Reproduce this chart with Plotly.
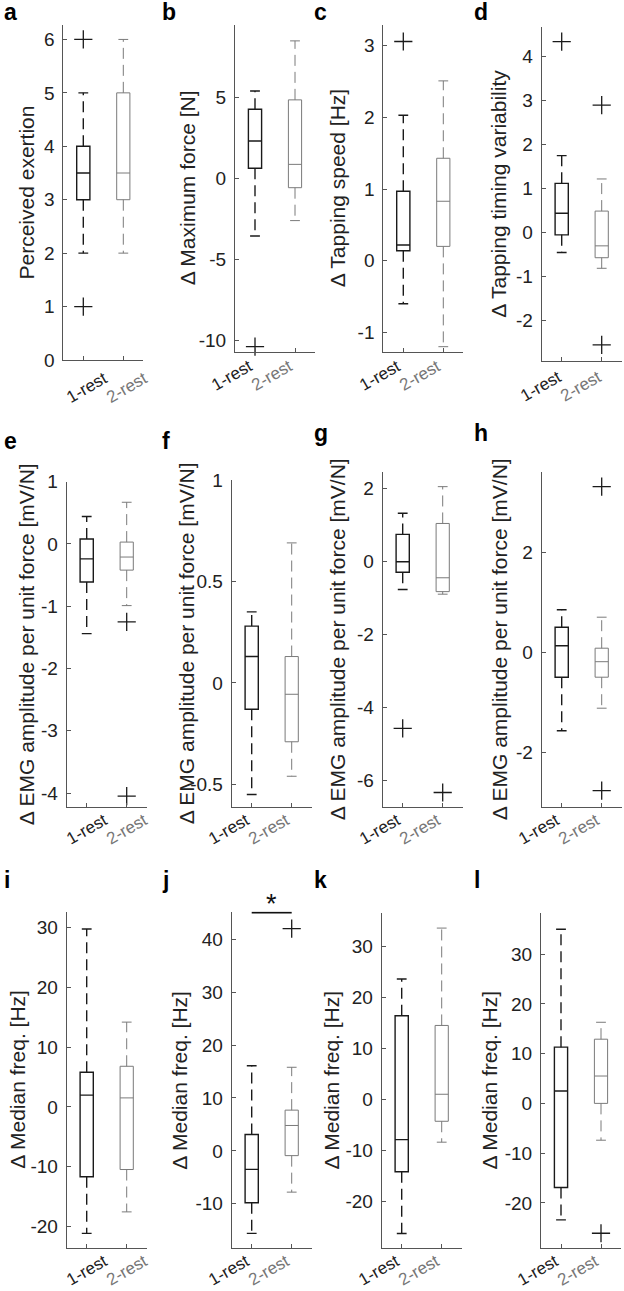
import plotly.graph_objects as go

W, H = 624, 1291

# ---------------- data ----------------
PANEL_LETTERS = ["a", "b", "c", "d", "e", "f", "g", "h", "i", "j", "k", "l"]
GROUPS = ["1-rest", "2-rest"]
Y_TITLES = [
    "Perceived exertion", "Δ Maximum force [N]", "Δ Tapping speed [Hz]", "Δ Tapping timing variability",
    "Δ EMG amplitude per unit force [mV/N]", "Δ EMG amplitude per unit force [mV/N]",
    "Δ EMG amplitude per unit force [mV/N]", "Δ EMG amplitude per unit force [mV/N]",
    "Δ Median freq. [Hz]", "Δ Median freq. [Hz]", "Δ Median freq. [Hz]", "Δ Median freq. [Hz]",
]

# group 1 (1-rest) box statistics per panel
G1_LOWER = [2, -3.56, -0.60, -0.45, -1.44, -0.55, -0.76, -1.57, -21.2, -15.6, -26.3, -23.4]
G1_Q1 = [3, 0.62, 0.14, -0.05, -0.61, -0.13, -0.29, -0.50, -11.7, -9.8, -14.2, -16.9]
G1_MED = [3.5, 2.30, 0.22, 0.44, -0.24, 0.13, 0.0, 0.13, 1.96, -3.5, -7.9, 2.5]
G1_Q3 = [4, 4.26, 0.97, 1.12, 0.08, 0.28, 0.75, 0.50, 5.8, 3.1, 16.4, 11.3]
G1_UPPER = [5, 5.39, 2.03, 1.75, 0.44, 0.35, 1.33, 0.85, 29.8, 16.1, 23.6, 35.0]
G1_OUTLIERS = [[6, 1], [-10.39], [3.06], [4.34], [], [], [-4.57], [], [], [], [], []]

# group 2 (2-rest) box statistics per panel
G2_LOWER = [2, -2.61, -1.20, -0.81, -0.99, -0.46, -0.89, -1.12, -17.6, -7.8, -8.4, -7.4]
G2_Q1 = [3, -0.58, 0.20, -0.57, -0.42, -0.29, -0.82, -0.50, -10.5, -0.9, -4.3, 0.0]
G2_MED = [3.5, 0.86, 0.83, -0.30, -0.21, -0.056, -0.44, -0.19, 1.5, 4.8, 1.0, 5.5]
G2_Q3 = [5, 4.84, 1.43, 0.49, 0.03, 0.13, 1.05, 0.08, 6.8, 7.7, 14.5, 12.9]
G2_UPPER = [6, 8.48, 2.51, 1.22, 0.67, 0.69, 2.06, 0.70, 14.2, 15.8, 33.6, 16.3]
G2_OUTLIERS = [[], [], [], [2.90, -2.55], [-1.25, -4.05], [], [-6.33], [3.31, -2.77], [], [42.0], [], [-26.1]]

Y_TICKS = [
    [0, 1, 2, 3, 4, 5, 6], [-10, -5, 0, 5], [-1, 0, 1, 2, 3], [-2, -1, 0, 1, 2, 3, 4],
    [-4, -3, -2, -1, 0, 1], [-0.5, 0, 0.5, 1], [-6, -4, -2, 0, 2], [-2, 0, 2],
    [-20, -10, 0, 10, 20, 30], [-10, 0, 10, 20, 30, 40], [-20, -10, 0, 10, 20, 30], [-20, -10, 0, 10, 20, 30],
]
SIGNIF_PANEL = 9          # panel j
SIGNIF_LABEL = "*"

# ---------------- layout (pixels) ----------------
Y_RANGES = [
    [0, 6.27], [-10.7, 9.46], [-1.27, 3.29], [-2.91, 4.68],
    [-4.22, 1.0], [-0.61, 1.0], [-6.72, 2.47], [-3.09, 3.61],
    [-23.6, 32.7], [-18.3, 45.2], [-29.1, 36.5], [-29.0, 38.2],
]
BOXES_PX = [  # x0, x1, ytop, ybottom
    (63.3, 143.3, 25, 360), (235, 315, 25, 351.7), (383.3, 463.3, 25, 351.7), (541.7, 621.7, 26.7, 360.7),
    (66.7, 146.7, 481.7, 806.7), (231.7, 311.7, 480, 806.7), (382.7, 462.7, 471.7, 806.7), (541.7, 621.7, 471.7, 806.7),
    (66.7, 146.7, 911.7, 1247.7), (231.7, 311.7, 911.7, 1247.7), (381.7, 461.7, 913.3, 1247.7), (541, 621, 913.3, 1247.7),
]
TITLE_X_PX = [26, 187, 337, 499, 26, 186, 337, 499, 18, 180, 331, 489]
# x tick-label placement: anchor, x shift, y gap
XLAB_STYLE = [
    ("center", 4, 7), ("right", 2, 3), ("right", 2, 3), ("right", 4, 5),
    ("center", 0, 2), ("right", 2, 2), ("right", 2, 2), ("right", 2, 2),
    ("center", 0, 2), ("right", 2, 2), ("right", 2, 2), ("right", 2, 2),
]
LETTER_POS = [(2, 12), (160, 12), (312, 12), (472, 12),
              (2, 441), (160, 441), (312, 433), (472, 433),
              (2, 880), (160, 880), (312, 880), (472, 880)]

FONT = "Liberation Sans, Arial, Helvetica, sans-serif"
TXT = "#222222"
AXC = "#555555"
COLORS = ["#1a1a1a", "#7a7a7a"]
BOX_LW = [1.4, 1.0]
BOX_WIDTH = 0.33
TICK_FS = 19
XLAB_FS = 17
TITLE_FS = 21
LETTER_FS = 23

fig = go.Figure()
annotations = []
shapes = []


def fmt(v):
    return f"{v:g}"


for k in range(12):
    ax = "" if k == 0 else str(k + 1)
    xref, yref = "x" + ax, "y" + ax
    stats = [
        (G1_LOWER[k], G1_Q1[k], G1_MED[k], G1_Q3[k], G1_UPPER[k], G1_OUTLIERS[k]),
        (G2_LOWER[k], G2_Q1[k], G2_MED[k], G2_Q3[k], G2_UPPER[k], G2_OUTLIERS[k]),
    ]
    for gi, (lo, q1, med, q3, up, outs) in enumerate(stats):
        xpos = gi + 1
        col = COLORS[gi]
        fig.add_trace(go.Scatter(
            x=[xpos, xpos, None, xpos, xpos], y=[q3, up, None, q1, lo], mode="lines",
            line=dict(color=col, width=BOX_LW[gi], dash="11px,6px"),
            xaxis=xref, yaxis=yref, showlegend=False, hoverinfo="skip"))
        fig.add_trace(go.Scatter(
            x=[xpos, xpos], y=[up, lo], mode="markers",
            marker=dict(symbol="line-ew", size=7, line=dict(color=col, width=BOX_LW[gi])),
            xaxis=xref, yaxis=yref, showlegend=False, hoverinfo="skip"))
        fig.add_trace(go.Box(
            x=[xpos], q1=[q1], median=[med], q3=[q3], lowerfence=[q1], upperfence=[q3],
            width=BOX_WIDTH, whiskerwidth=0, fillcolor="rgba(0,0,0,0)",
            line=dict(color=col, width=BOX_LW[gi]), boxpoints=False,
            xaxis=xref, yaxis=yref, showlegend=False, hoverinfo="skip"))
        if outs:
            fig.add_trace(go.Scatter(
                x=[xpos] * len(outs), y=outs, mode="markers",
                marker=dict(symbol="cross-thin", size=13, line=dict(color="#1a1a1a", width=1.3)),
                xaxis=xref, yaxis=yref, showlegend=False, hoverinfo="skip", cliponaxis=False))

        anchor, xs, yg = XLAB_STYLE[k]
        annotations.append(dict(
            text=GROUPS[gi], x=xpos, y=0, xref=xref, yref=yref + " domain",
            xanchor=anchor, yanchor="top", xshift=xs, yshift=-yg, textangle=-30, showarrow=False,
            borderpad=0, font=dict(family=FONT, size=XLAB_FS, color=TXT if gi == 0 else "#777777")))

    x0, x1, yt, yb = BOXES_PX[k]
    common = dict(showline=True, linecolor=AXC, linewidth=1, ticks="inside", ticklen=4, tickcolor=AXC,
                  showgrid=False, zeroline=False, fixedrange=True, automargin=False,
                  tickfont=dict(family=FONT, size=TICK_FS, color=TXT))
    fig.layout["xaxis" + ax] = dict(
        domain=[x0 / W, x1 / W], anchor=yref, range=[0.5, 2.5],
        tickvals=[1, 2], showticklabels=False, **common)
    fig.layout["yaxis" + ax] = dict(
        domain=[1 - yb / H, 1 - yt / H], anchor=xref, range=Y_RANGES[k],
        tickvals=Y_TICKS[k], ticktext=[fmt(v) for v in Y_TICKS[k]], ticklabelstandoff=4,
        **common)

    # y-axis title
    annotations.append(dict(text=Y_TITLES[k], x=TITLE_X_PX[k] / W, y=1 - (yt + yb) / 2 / H,
                            xref="paper", yref="paper", xanchor="center", yanchor="middle",
                            textangle=-90, showarrow=False, borderpad=0,
                            font=dict(family=FONT, size=TITLE_FS, color=TXT)))

    lx, ly = LETTER_POS[k]
    annotations.append(dict(text=f"<b>{PANEL_LETTERS[k]}</b>", x=lx / W, y=1 - ly / H, xref="paper", yref="paper",
                            xanchor="left", yanchor="middle", showarrow=False,
                            font=dict(family=FONT, size=LETTER_FS, color="#000000")))

# significance bar in panel j
k = SIGNIF_PANEL
ax = str(k + 1)
ytop = Y_RANGES[k][1]
shapes.append(dict(type="line", xref="x" + ax, yref="y" + ax, x0=1, x1=2, y0=ytop - 0.15, y1=ytop - 0.15,
                   line=dict(color="#111111", width=2)))
annotations.append(dict(text=SIGNIF_LABEL, x=1.5, y=ytop, xref="x" + ax, yref="y" + ax, yshift=-9,
                        xanchor="center", yanchor="bottom", showarrow=False,
                        font=dict(family=FONT, size=27, color="#111111")))

fig.update_layout(width=W, height=H, margin=dict(l=0, r=0, t=0, b=0),
                  plot_bgcolor="white", paper_bgcolor="white",
                  annotations=annotations, shapes=shapes, showlegend=False)

fig.write_html("out.html", config={"displayModeBar": False},
               post_script="document.body.style.margin='0';document.body.style.padding='0';")
